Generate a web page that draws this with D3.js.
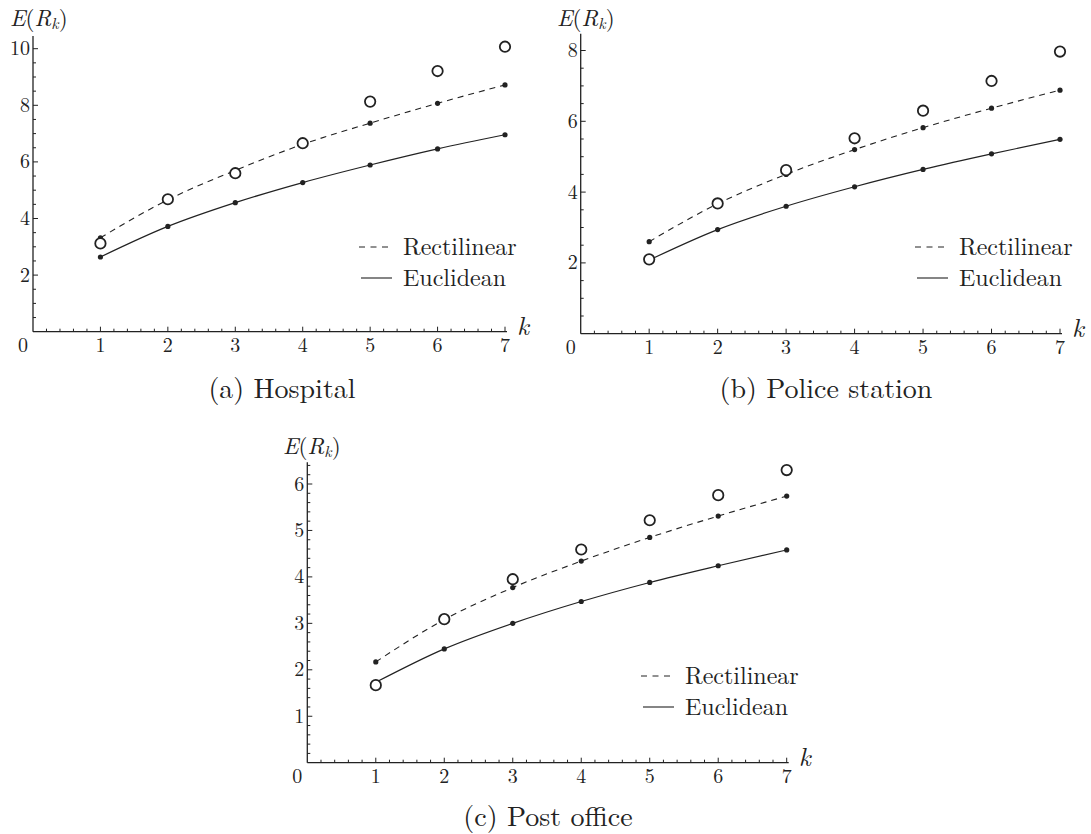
<!DOCTYPE html>
<html>
<head>
<meta charset="utf-8">
<script src="https://cdn.jsdelivr.net/npm/d3@7"></script>
<style>
  html, body { margin: 0; padding: 0; background: #fff; }
  svg { display: block; }
</style>
</head>
<body>
<svg id="chart" width="1091" height="834"></svg>
<script>
// ---------------- data ----------------
const kValues = [1, 2, 3, 4, 5, 6, 7];
const xTickLabels = ["1", "2", "3", "4", "5", "6", "7"];

// (a) Hospital
const hospitalEuclidean   = [2.64, 3.72, 4.56, 5.27, 5.89, 6.46, 6.96];
const hospitalRectilinear = [3.32, 4.66, 5.70, 6.62, 7.37, 8.07, 8.72];
const hospitalObserved    = [3.12, 4.68, 5.60, 6.66, 8.13, 9.21, 10.07];
const hospitalYTicks      = [2, 4, 6, 8, 10];

// (b) Police station
const policeEuclidean   = [2.08, 2.94, 3.60, 4.15, 4.64, 5.08, 5.49];
const policeRectilinear = [2.60, 3.67, 4.50, 5.20, 5.82, 6.37, 6.88];
const policeObserved    = [2.10, 3.68, 4.62, 5.52, 6.30, 7.14, 7.97];
const policeYTicks      = [2, 4, 6, 8];

// (c) Post office
const postEuclidean   = [1.73, 2.45, 3.00, 3.47, 3.88, 4.24, 4.58];
const postRectilinear = [2.17, 3.08, 3.77, 4.34, 4.85, 5.31, 5.74];
const postObserved    = [1.67, 3.09, 3.95, 4.59, 5.22, 5.76, 6.30];
const postYTicks      = [1, 2, 3, 4, 5, 6];

const legendLabels = ["Rectilinear", "Euclidean"];
const captions = ["(a) Hospital", "(b) Police station", "(c) Post office"];

// ---------------- layout ----------------
const FONT = '"Latin Modern Roman", "Liberation Serif", serif';
const panels = [
  { euc: hospitalEuclidean, rect: hospitalRectilinear, obs: hospitalObserved, yTicks: hospitalYTicks,
    yMax: 10, yTop: 10.45, minorStepY: 0.5,
    x0: 33, x1: 505, y0: 331.7, y1: 48.7,
    labelX: 10, labelY: 26,
    legX: 359, legY: 247,
    capX: 282, capY: 398, caption: captions[0] },
  { euc: policeEuclidean, rect: policeRectilinear, obs: policeObserved, yTicks: policeYTicks,
    yMax: 8, yTop: 8.47, minorStepY: 0.5,
    x0: 580.7, x1: 1060, y0: 333.7, y1: 50.5,
    labelX: 557, labelY: 26,
    legX: 915, legY: 247,
    capX: 826, capY: 398, caption: captions[1] },
  { euc: postEuclidean, rect: postRectilinear, obs: postObserved, yTicks: postYTicks,
    yMax: 6, yTop: 6.47, minorStepY: 0.2,
    x0: 307.3, x1: 786.7, y0: 762.7, y1: 484,
    labelX: 283, labelY: 454,
    legX: 641, legY: 676,
    capX: 548, capY: 826, caption: captions[2] }
];

const svg = d3.select("#chart");
const ink = "#222";

function txt(sel) {
  return sel.append("text").style("font-family", FONT).attr("fill", ink);
}

panels.forEach(p => {
  const g = svg.append("g");
  const x = d3.scaleLinear().domain([0, 7]).range([p.x0, p.x1]);
  const y = d3.scaleLinear().domain([0, p.yMax]).range([p.y0, p.y1]);

  // axes lines
  g.append("line").attr("x1", x(0)).attr("x2", x(7) + 2).attr("y1", y(0)).attr("y2", y(0))
    .attr("stroke", ink).attr("stroke-width", 1.3);
  g.append("line").attr("x1", x(0)).attr("x2", x(0)).attr("y1", y(0)).attr("y2", y(p.yTop))
    .attr("stroke", ink).attr("stroke-width", 1.3);

  // x ticks (minor every 0.2, major at integers)
  const xMinor = d3.range(1, 36).map(i => i / 5);
  g.selectAll(".xt").data(xMinor).enter().append("line")
    .attr("x1", d => x(d)).attr("x2", d => x(d))
    .attr("y1", y(0)).attr("y2", d => y(0) - (Math.abs(d - Math.round(d)) < 1e-6 ? 5 : 3))
    .attr("stroke", ink).attr("stroke-width", 1);
  // y ticks
  const nMinor = Math.floor(p.yTop / p.minorStepY + 1e-6);
  const yMinor = d3.range(1, nMinor + 1).map(i => +(i * p.minorStepY).toFixed(3));
  g.selectAll(".yt").data(yMinor).enter().append("line")
    .attr("y1", d => y(d)).attr("y2", d => y(d))
    .attr("x1", x(0)).attr("x2", d => x(0) + (p.yTicks.some(t => Math.abs(t - d) < 1e-6) ? 5 : 3))
    .attr("stroke", ink).attr("stroke-width", 1);

  // tick labels
  kValues.forEach((d, i) => {
    txt(g).attr("x", x(d)).attr("y", y(0) + 20)
      .attr("text-anchor", "middle").attr("font-size", 20).text(xTickLabels[i]);
  });
  txt(g).attr("x", x(0) - 10).attr("y", y(0) + 20)
    .attr("text-anchor", "middle").attr("font-size", 20).text("0");
  p.yTicks.forEach(d => {
    txt(g).attr("x", x(0) - 3).attr("y", y(d) + 6.5)
      .attr("text-anchor", "end").attr("font-size", 20).text(d);
  });

  // axis titles
  const lab = txt(g).attr("x", p.labelX).attr("y", p.labelY).attr("font-size", 23);
  lab.append("tspan").attr("font-style", "italic").text("E");
  lab.append("tspan").text("(");
  lab.append("tspan").attr("font-style", "italic").text("R");
  lab.append("tspan").attr("font-style", "italic").attr("font-size", 16).attr("dy", 3).text("k");
  lab.append("tspan").attr("dy", -3).text(")");
  txt(g).attr("x", x(7) + 12).attr("y", y(0) + 3)
    .attr("font-style", "italic").attr("font-size", 26).text("k");

  // curves
  const line = d3.line().x((d, i) => x(kValues[i])).y(d => y(d)).curve(d3.curveMonotoneX);
  g.append("path").attr("d", line(p.rect)).attr("fill", "none")
    .attr("stroke", ink).attr("stroke-width", 1.1).attr("stroke-dasharray", "6,5");
  g.append("path").attr("d", line(p.euc)).attr("fill", "none")
    .attr("stroke", ink).attr("stroke-width", 1.2);

  // model dots
  [p.rect, p.euc].forEach(series => {
    g.selectAll(null).data(series).enter().append("circle")
      .attr("cx", (d, i) => x(kValues[i])).attr("cy", d => y(d)).attr("r", 2.6)
      .attr("fill", ink);
  });
  // observed (open circles)
  g.selectAll(null).data(p.obs).enter().append("circle")
    .attr("cx", (d, i) => x(kValues[i])).attr("cy", d => y(d)).attr("r", 5.2)
    .attr("fill", "#fff").attr("stroke", ink).attr("stroke-width", 1.8);

  // legend
  g.append("line").attr("x1", p.legX).attr("x2", p.legX + 33).attr("y1", p.legY).attr("y2", p.legY)
    .attr("stroke", ink).attr("stroke-width", 1).attr("stroke-dasharray", "6,5.5");
  g.append("line").attr("x1", p.legX + 2).attr("x2", p.legX + 33).attr("y1", p.legY + 31).attr("y2", p.legY + 31)
    .attr("stroke", ink).attr("stroke-width", 1.1);
  txt(g).attr("x", p.legX + 44).attr("y", p.legY + 8).attr("font-size", 24).text(legendLabels[0]);
  txt(g).attr("x", p.legX + 44).attr("y", p.legY + 39).attr("font-size", 24).text(legendLabels[1]);

  // caption
  txt(g).attr("x", p.capX).attr("y", p.capY).attr("text-anchor", "middle")
    .attr("font-size", 28).text(p.caption);
});
</script>
</body>
</html>
